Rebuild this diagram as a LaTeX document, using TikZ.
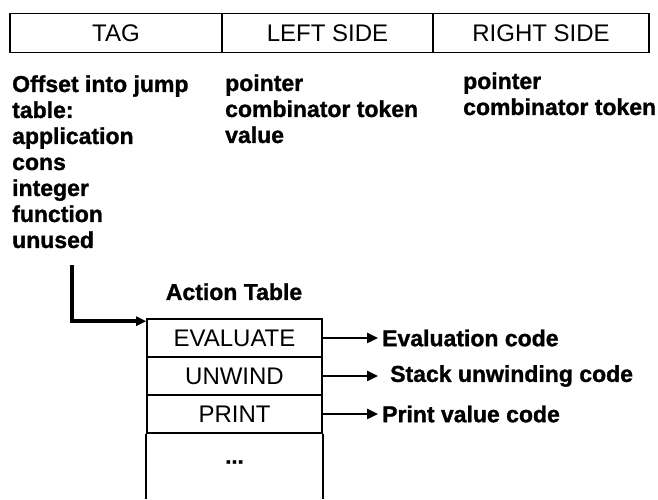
\documentclass[tikz,border=0pt]{standalone}
\usepackage{fontspec}
\setmainfont{Liberation Sans}[BoldFeatures={FakeBold=1.2}]
\usetikzlibrary{arrows.meta}
\begin{document}
\begin{tikzpicture}[x=1pt,y=1pt,
  cell/.style={draw,line width=1.4pt,minimum height=39pt,inner sep=0pt,
    font=\fontsize{24}{28}\selectfont},
  lbl/.style={inner sep=0pt,font=\bfseries\fontsize{23}{26}\selectfont},
  row/.style={draw,line width=1.6pt,minimum width=175pt,minimum height=38pt,
    inner sep=0pt,font=\fontsize{24}{28}\selectfont},
  arr/.style={line width=2.4pt,-{Triangle[length=11pt,width=10pt]}}]
\useasboundingbox (0,0) rectangle (658,500);
% cell layout
\node[cell,minimum width=212pt] (tag) at (116,467) {TAG};
\node[cell,minimum width=211pt] (left) at (327.5,467) {LEFT SIDE};
\node[cell,minimum width=216pt] (right) at (541,467) {RIGHT SIDE};
% what each field holds
\foreach \t [count=\i from 0] in {Offset into jump,table:,application,cons,integer,function,unused}
  \node[lbl,anchor=base west] (tag\i) at (12,408-26*\i) {\t};
\foreach \t [count=\i from 0] in {pointer,combinator token,value}
  \node[lbl,anchor=base west] (left\i) at (225,409-26*\i) {\t};
\foreach \t [count=\i from 0] in {pointer,combinator token}
  \node[lbl,anchor=base west] (right\i) at (463,411-26*\i) {\t};
% action table
\node[lbl,anchor=base] (acttitle) at (234,200) {Action Table};
\node[row] (evaluate) at (234.5,162) {EVALUATE};
\node[row] (unwind) at (234.5,124) {UNWIND};
\node[row] (print) at (234.5,86) {PRINT};
\node[inner sep=0pt,font=\bfseries\fontsize{22}{26}\selectfont] (dots) at (234.5,38) {...};
\draw[line width=1.6pt] (print.south west) -- (print.south west |- 0,1);
\draw[line width=1.6pt] (print.south east) -- (print.south east |- 0,1);
% jump from tag into the table
\coordinate (jump) at (72,235);
\draw[line width=3.5pt,-{Triangle[length=10pt,width=9pt]}]
  (jump) |- ([yshift=-3pt]evaluate.north west);
% code targets
\node[lbl,anchor=west,inner sep=4pt] (evcode) at (378,162) {Evaluation code};
\node[lbl,anchor=west,inner sep=4pt] (stcode) at (386,124) {Stack unwinding code};
\node[lbl,anchor=west,inner sep=4pt] (prcode) at (378,86) {Print value code};
\draw[arr] (evaluate) -- (evcode);
\draw[arr] (unwind) -- ([xshift=-8pt]stcode.west);
\draw[arr] (print) -- (prcode);
\end{tikzpicture}
\end{document}
